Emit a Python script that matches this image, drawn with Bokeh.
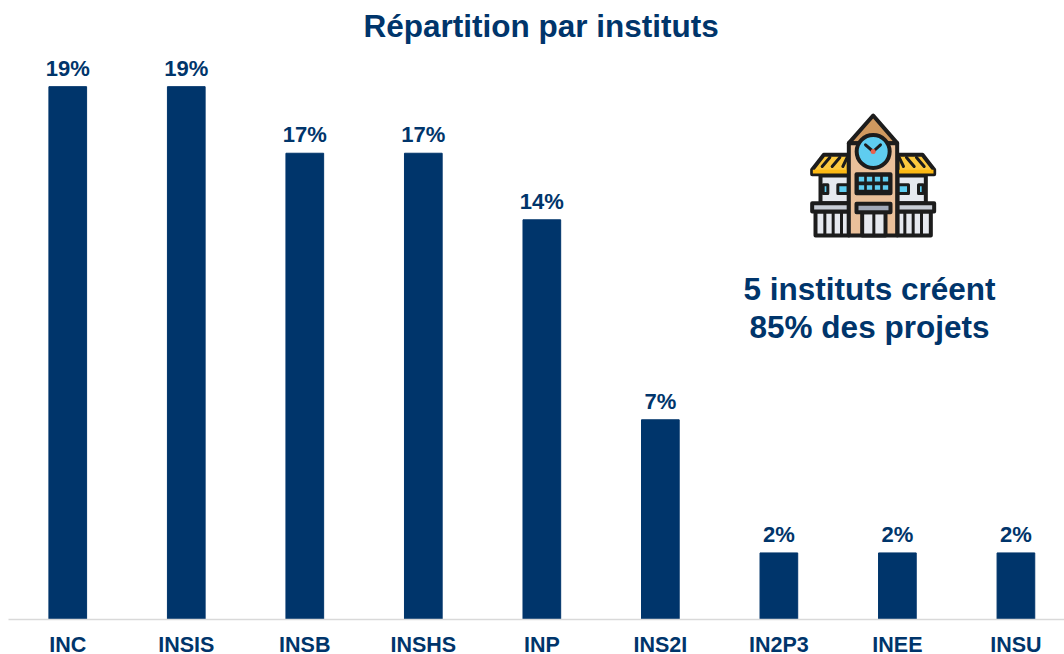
from bokeh.plotting import figure
from bokeh.embed import file_html
from bokeh.resources import INLINE
from bokeh.core.properties import value
from bokeh.models import Range1d, FixedTicker, ColumnDataSource

instituts = ["INC", "INSIS", "INSB", "INSHS", "INP", "INS2I", "IN2P3", "INEE", "INSU"]
parts = [19.05, 19.05, 16.67, 16.67, 14.29, 7.14, 2.38, 2.38, 2.38]
etiquettes = ["19%", "19%", "17%", "17%", "14%", "7%", "2%", "2%", "2%"]
titre = "Répartition par instituts"
message = ["5 instituts créent", "85% des projets"]

NAVY = "#00356B"
FONT = "Liberation Sans"
INK = "#1c1c1c"

p = figure(width=1064, height=654, frame_height=570, output_backend="svg", toolbar_location=None,
           x_range=Range1d(-0.5, 8.41), y_range=Range1d(0, 570 / 27.97),
           min_border_left=8, min_border_right=0, min_border_top=48, min_border_bottom=36,
           background_fill_color="white", border_fill_color="white")
p.outline_line_color = None
p.grid.visible = False
p.yaxis.visible = False

p.title.text = titre
p.title.align = "left"
p.title.offset = 355
p.title.text_font = FONT
p.title.text_font_size = "31.5px"
p.title.text_font_style = "bold"
p.title.text_color = NAVY
p.title.standoff = 11

ax = p.xaxis[0]
ax.ticker = FixedTicker(ticks=list(range(len(instituts))))
ax.major_label_overrides = {i: n for i, n in enumerate(instituts)}
ax.major_tick_line_color = None
ax.minor_tick_line_color = None
ax.axis_line_color = "#d9d9d9"
ax.axis_line_width = 1.5
ax.major_label_text_font = FONT
ax.major_label_text_font_size = "21.5px"
ax.major_label_text_font_style = "bold"
ax.major_label_text_color = NAVY
ax.major_label_standoff = 7

src = ColumnDataSource(dict(x=list(range(len(instituts))), top=parts, lab=etiquettes))
p.vbar(x="x", top="top", bottom=0, width=0.318, color=NAVY, source=src)
p.text(x="x", y="top", text="lab", source=src, text_align="center", text_baseline="bottom",
       y_offset=-6, text_font=value(FONT), text_font_size="22px", text_font_style="bold",
       text_color=NAVY)

# Pixel-based ranges for the annotation text and the decorative icon
p.extra_x_ranges["px"] = Range1d(8, 1064)
p.extra_y_ranges["px"] = Range1d(618, 48)
kw = dict(x_range_name="px", y_range_name="px")

p.text(x=[869, 869], y=[287, 325], text=message, text_align="center", text_baseline="middle",
       text_font=value(FONT), text_font_size="31.5px", text_font_style="bold",
       text_color=NAVY, **kw)

# Icon: shapes given in a local grid, mapped to page pixels
def X(v): return 780 + v / 3
def Y(v): return 100 + v / 3

def poly(xs, ys, fill, lw=4):
    p.patch([X(v) for v in xs], [Y(v) for v in ys], fill_color=fill,
            line_color=INK if lw else None, line_width=lw, line_join="round", **kw)

def rect(x0, y0, x1, y1, fill, lw=4):
    poly([x0, x1, x1, x0], [y0, y0, y1, y1], fill, lw)

def seg(x0, y0, x1, y1, color=INK, lw=4):
    p.line([X(x0), X(x1)], [Y(y0), Y(y1)], line_color=color, line_width=lw, line_cap="round", **kw)

for m in (0, 1):
    f = (lambda v: 556 - v) if m else (lambda v: v)
    # columns
    rect(f(105), 330, f(205), 402, "#e6e9ef")
    for c in (133, 158, 183):
        seg(f(c), 330, f(c), 400, lw=3)
    # wing body
    rect(f(120), 222, f(205), 305, "#e6e9ef")
    rect(f(128), 250, f(142), 276, "#5fcdf0", lw=3)
    rect(f(172), 250, f(203), 276, "#5fcdf0", lw=3)
    # slab
    rect(f(95), 305, f(205), 330, "#c8cdd6")
    # roof
    poly([f(130), f(205), f(205), f(95), f(95)], [160, 160, 218, 218, 205], "#fdc93e")
    rect(f(97), 205, f(205), 216, "#fdb913", lw=0)
    for c0, c1 in ((125, 148), (155, 178), (187, 200)):
        seg(f(c0), 195, f(c1), 168, lw=3)

# tower
poly([278, 205, 350], [42, 125, 125], "#d0995f")
rect(205, 125, 350, 402, "#eac09a")
# clock
p.scatter([X(278)], [Y(150)], size=33, marker="circle", fill_color="#5fcdf0",
          line_color=INK, line_width=4, **kw)
seg(255, 130, 278, 150, lw=3)
seg(300, 130, 278, 150, lw=3)
p.scatter([X(278)], [Y(150)], size=5, marker="circle", fill_color="#e8604c", line_color=None, **kw)
# window panel
rect(228, 218, 330, 275, INK)
for row in (233, 258):
    for col in (243, 267, 291, 315):
        rect(col - 8, row - 7, col + 8, row + 7, "#5fcdf0", lw=0)
# door
rect(245, 332, 315, 402, "#e6e9ef")
seg(280, 332, 280, 400, lw=3)
rect(228, 307, 330, 332, "#a0a8b8")

open("out.html", "w").write(file_html(p, INLINE))
